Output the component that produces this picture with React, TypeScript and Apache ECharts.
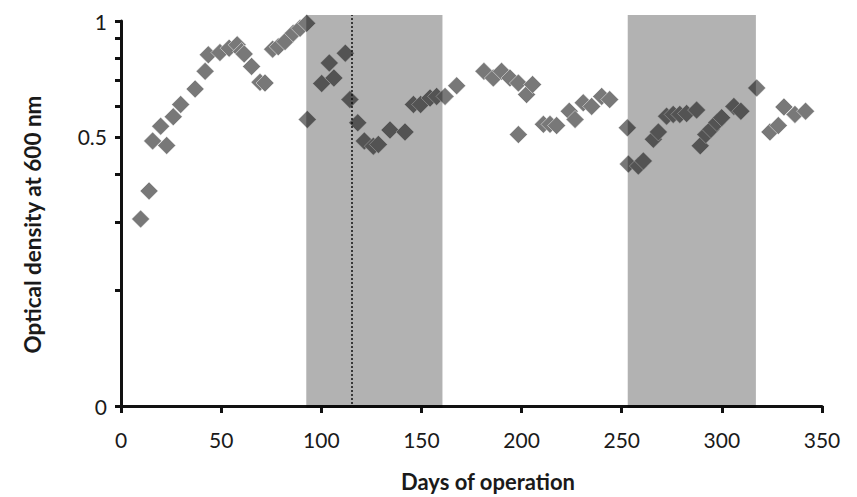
import React, { useEffect, useRef } from "react";
import * as echarts from "echarts";

// Days of operation (x) and optical density at 600 nm (y)
const days = [
  9.8, 14, 15.8, 19.8, 22.8, 26.1, 29.8, 37, 42, 43.6, 49.4, 54, 58, 60.2, 61.5,
  65.2, 69.4, 71.9, 75.7, 78.5, 81.9, 86, 89.4, 92.7, 93, 100.2, 104, 106.3, 112,
  114.3, 118.2, 121.5, 126, 128.5, 134.3, 141.8, 146, 149.6, 154.3, 157.6, 161.8,
  167.6, 181.2, 185.9, 190, 194.2, 198.4, 202.5, 205.5, 198.4, 210.9, 214.2,
  217.5, 223.8, 226.7, 230.8, 235, 240, 244, 252.8, 253.3, 258.3, 260.8, 265.8,
  268.3, 272.4, 275.7, 279, 282.4, 287.4, 289.2, 292, 294.5, 297.5, 299.9, 306,
  309.5, 317.4, 324, 328.2, 331, 336.5, 341.8,
];
const od = [
  0.306, 0.362, 0.488, 0.533, 0.475, 0.564, 0.607, 0.666, 0.74, 0.817, 0.828,
  0.85, 0.867, 0.833, 0.821, 0.762, 0.693, 0.69, 0.845, 0.857, 0.884, 0.93,
  0.957, 0.986, 0.555, 0.688, 0.778, 0.711, 0.825, 0.625, 0.544, 0.488, 0.473,
  0.478, 0.521, 0.515, 0.607, 0.607, 0.631, 0.637, 0.637, 0.679, 0.74, 0.711,
  0.74, 0.711, 0.69, 0.644, 0.684, 0.507, 0.539, 0.539, 0.535, 0.583, 0.555,
  0.613, 0.6, 0.637, 0.625, 0.528, 0.425, 0.42, 0.433, 0.493, 0.515, 0.566,
  0.572, 0.572, 0.575, 0.587, 0.474, 0.507, 0.523, 0.545, 0.561, 0.6, 0.583,
  0.67, 0.515, 0.535, 0.598, 0.572, 0.583,
];

// Shaded periods and marker line (days)
const bandStart = [92.5, 253];
const bandEnd = [160.5, 317];
const markerDays = [115];

// Axis ticks
const xMin = 0;
const xMax = 350;
const xInterval = 50;
const yTickValues = [0.1, 0.2, 0.3, 0.4, 0.5, 0.6, 0.7, 0.8, 0.9, 1];
const yLabelValues = [0.1, 0.5, 1];
const yLabelTexts = ["0", "0.5", "1"];

const FONT = "Lato";

export default function App() {
  const ref = useRef<HTMLDivElement>(null);

  useEffect(() => {
    if (!ref.current) return;
    const chart = echarts.init(ref.current, null, { renderer: "svg" });

    const labelFor = (v: number) => {
      for (let i = 0; i < yLabelValues.length; i++) {
        const lv = yLabelValues[i];
        if (Math.abs(v - lv) < 1e-6 || Math.abs(v - Math.log10(lv)) < 1e-6) {
          return yLabelTexts[i];
        }
      }
      return "";
    };

    chart.setOption({
      animation: false,
      grid: [
        { left: 121, right: 35, top: 21, bottom: 89 },
        { left: 121, right: 35, top: 15, bottom: 89 },
      ],
      xAxis: [
        {
          gridIndex: 0,
          type: "value",
          min: xMin,
          max: xMax,
          interval: xInterval,
          axisLine: { show: true, onZero: false, lineStyle: { color: "#111", width: 3 } },
          axisTick: { show: true, length: 7, lineStyle: { color: "#111", width: 3 } },
          axisLabel: { margin: 23, fontSize: 21, color: "#1a1a1a", fontFamily: FONT },
          splitLine: { show: false },
          name: "Days of operation",
          nameLocation: "middle",
          nameGap: 64,
          nameTextStyle: {
            fontWeight: "bold",
            fontSize: 22,
            color: "#1a1a1a",
            fontFamily: FONT,
            padding: [0, 0, 0, 33],
          },
        },
        { gridIndex: 1, type: "value", min: xMin, max: xMax, show: false },
      ],
      yAxis: [
        {
          gridIndex: 0,
          type: "log",
          logBase: 10,
          min: 0.1,
          max: 1,
          axisLine: { show: true, onZero: false, lineStyle: { color: "#111", width: 3 } },
          axisTick: {
            show: true,
            length: 6,
            customValues: yTickValues,
            lineStyle: { color: "#111", width: 3 },
          },
          minorTick: { show: false },
          axisLabel: {
            customValues: yLabelValues,
            margin: 14,
            fontSize: 21,
            color: "#1a1a1a",
            fontFamily: FONT,
            formatter: (v: number) => labelFor(v),
          },
          splitLine: { show: false },
          name: "Optical density at 600 nm",
          nameLocation: "middle",
          nameGap: 77,
          nameRotate: 90,
          nameTextStyle: {
            fontWeight: "bold",
            fontSize: 22.5,
            color: "#1a1a1a",
            fontFamily: FONT,
            padding: [0, 22, 0, 0],
          },
        },
        { gridIndex: 1, type: "value", min: 0, max: 1, show: false },
      ],
      series: [
        {
          type: "scatter",
          xAxisIndex: 0,
          yAxisIndex: 0,
          symbol: "diamond",
          symbolSize: 18,
          z: 2,
          itemStyle: {
            color: "#787878",
            opacity: 1,
            borderColor: "rgba(255,255,255,0.6)",
            borderWidth: 0.8,
          },
          data: days.map((d, i) => [d, od[i]]),
        },
        {
          type: "scatter",
          xAxisIndex: 1,
          yAxisIndex: 1,
          data: [],
          z: 10,
          markArea: {
            silent: true,
            z: 10,
            itemStyle: { color: "rgba(0,0,0,0.3)" },
            data: bandStart.map((s, i) => [{ xAxis: s }, { xAxis: bandEnd[i] }]),
          },
          markLine: {
            silent: true,
            z: 11,
            symbol: "none",
            label: { show: false },
            lineStyle: { type: [2, 2], color: "#111", width: 1.5 },
            data: markerDays.map((d) => ({ xAxis: d })),
          },
        },
      ],
    });

    return () => chart.dispose();
  }, []);

  return (
    <div
      ref={ref}
      style={{ position: "fixed", left: 0, top: 0, width: 857, height: 497, background: "#fff" }}
    />
  );
}
